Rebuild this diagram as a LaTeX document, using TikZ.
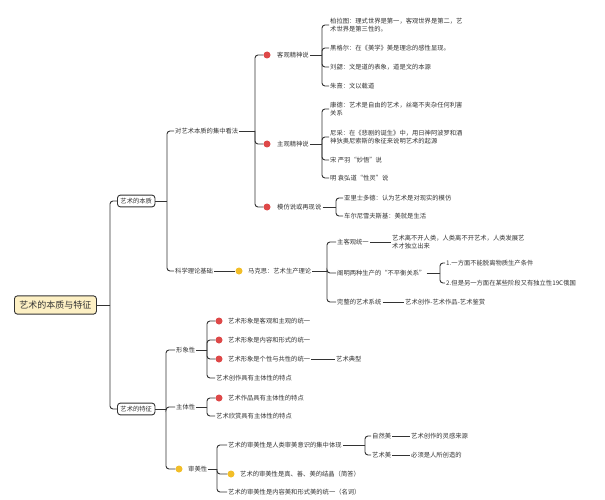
\documentclass[tikz,border=0pt]{standalone}
\usepackage{fontspec}
\setmainfont{Noto Sans CJK SC}
\definecolor{dred}{RGB}{222,72,72}
\definecolor{dyel}{RGB}{242,190,40}
\definecolor{rootf}{RGB}{253,240,196}
\begin{document}
\begin{tikzpicture}[x=1pt,y=-1pt,
  t/.style={anchor=west,inner sep=1pt,font=\fontsize{6.3}{8.5}\selectfont,text=black!80,align=left},
  box/.style={t,draw=black!80,line width=0.9pt,rounded corners=3pt,inner sep=3pt},
  ln/.style={draw=black!80,line width=0.9pt},
  rd/.style={circle,fill=dred,inner sep=0pt,minimum size=7pt,anchor=center},
  yd/.style={circle,fill=dyel,inner sep=0pt,minimum size=7pt,anchor=center}]
\useasboundingbox (0,0) rectangle (605,500);
\newcommand\brc[3]{\coordinate (s) at (#2,0);
  \draw[ln] (#1.east) -- (#1.east -| s);
  \foreach \c in {#3} {\draw[ln,rounded corners=3pt] (#1.east -| s) |- (\c.west);}}
\newcommand\lnk[2]{\draw[ln] (#1.east) -- (#2.west);}
% root
\node[box,fill=rootf,font=\fontsize{9}{11}\selectfont,inner sep=5pt] (root) at (14,305) {艺术的本质与特征};
\node[box] (bz) at (117,201) {艺术的本质};
\node[box] (tz) at (117,409) {艺术的特征};
\brc{root}{110}{bz,tz}
% essence
\node[t] (jz) at (174,131) {对艺术本质的集中看法};
\node[t] (kx) at (174,271) {科学理论基础};
\brc{bz}{167}{jz,kx}
\node[rd] (d1) at (267,55) {}; \node[t] (kg) at (276,55) {客观精神说};
\node[rd] (d2) at (267,144) {}; \node[t] (zg) at (276,144) {主观精神说};
\node[rd] (d3) at (267,207) {}; \node[t] (mf) at (276,207) {模仿说或再现说};
\brc{jz}{255}{d1,d2,d3}
\node[t] (k1) at (329,25) {柏拉图：理式世界是第一，客观世界是第二，艺\\术世界是第三性的。};
\node[t] (k2) at (329,48) {黑格尔：在《美学》美是理念的感性显现。};
\node[t] (k3) at (329,67) {刘勰：文是道的表象，道是文的本源};
\node[t] (k4) at (329,86) {朱熹：文以载道};
\brc{kg}{322}{k1,k2,k3,k4}
\node[t] (z1) at (329,109) {康德：艺术是自由的艺术，丝毫不夹杂任何利害\\关系};
\node[t] (z2) at (329,137) {尼采：在《悲剧的诞生》中，用日神阿波罗和酒\\神狄奥尼索斯的象征来说明艺术的起源};
\node[t] (z3) at (329,160) {宋 严羽“妙悟”说};
\node[t] (z4) at (329,178) {明 袁弘道“性灵”说};
\brc{zg}{322}{z1,z2,z3,z4}
\node[t] (m1) at (343,198) {亚里士多德：认为艺术是对现实的模仿};
\node[t] (m2) at (343,216) {车尔尼雪夫斯基：美就是生活};
\brc{mf}{336}{m1,m2}
\node[yd] (d4) at (239,271) {}; \node[t] (mk) at (247,271) {马克思：艺术生产理论};
\lnk{kx}{d4}
\node[t] (a1) at (336,242) {主客观统一};
\node[t] (a2) at (336,273) {阐明两种生产的“不平衡关系”};
\node[t] (a3) at (336,302) {完整的艺术系统};
\brc{mk}{327}{a1,a2,a3}
\node[t] (b1) at (391,242) {艺术离不开人类，人类离不开艺术，人类发展艺\\术才独立出来};
\lnk{a1}{b1}
\node[t] (b2) at (445,263) {1.一方面不能脱离物质生产条件};
\node[t] (b3) at (445,283) {2.但是另一方面在某些阶段又有独立性19C俄国};
\brc{a2}{440}{b2,b3}
\node[t] (b4) at (404,302) {艺术创作-艺术作品-艺术鉴赏};
\lnk{a3}{b4}
% features
\node[t] (xx) at (175,350) {形象性};
\node[t] (zt) at (175,407) {主体性};
\node[yd] (d5) at (179,469) {}; \node[t] (sm) at (187,469) {审美性};
\brc{tz}{166}{xx,zt,d5}
\node[rd] (e1) at (219,321) {}; \node[t] (x1) at (227,321) {艺术形象是客观和主观的统一};
\node[rd] (e2) at (219,340) {}; \node[t] (x2) at (227,340) {艺术形象是内容和形式的统一};
\node[rd] (e3) at (219,359) {}; \node[t] (x3) at (227,359) {艺术形象是个性与共性的统一};
\node[t] (x4) at (215,378) {艺术创作具有主体性的特点};
\brc{xx}{207}{e1,e2,e3,x4}
\node[t] (dx) at (335,359) {艺术典型};
\lnk{x3}{dx}
\node[rd] (e4) at (219,398) {}; \node[t] (y1) at (227,398) {艺术作品具有主体性的特点};
\node[t] (y2) at (215,416) {艺术欣赏具有主体性的特点};
\brc{zt}{207}{e4,y2}
\node[t] (s1) at (227,445) {艺术的审美性是人类审美意识的集中体现};
\node[yd] (e5) at (231,474) {}; \node[t] (s2) at (239,474) {艺术的审美性是真、善、美的结晶（简答）};
\node[t] (s3) at (227,492) {艺术的审美性是内容美和形式美的统一（名词）};
\brc{sm}{217}{s1,e5,s3}
\node[t] (n1) at (371,436) {自然美};
\node[t] (n2) at (371,455) {艺术美};
\brc{s1}{365}{n1,n2}
\node[t] (n3) at (410,436) {艺术创作的灵感来源};
\node[t] (n4) at (410,455) {必须是人所创造的};
\lnk{n1}{n3} \lnk{n2}{n4}
\end{tikzpicture}
\end{document}
